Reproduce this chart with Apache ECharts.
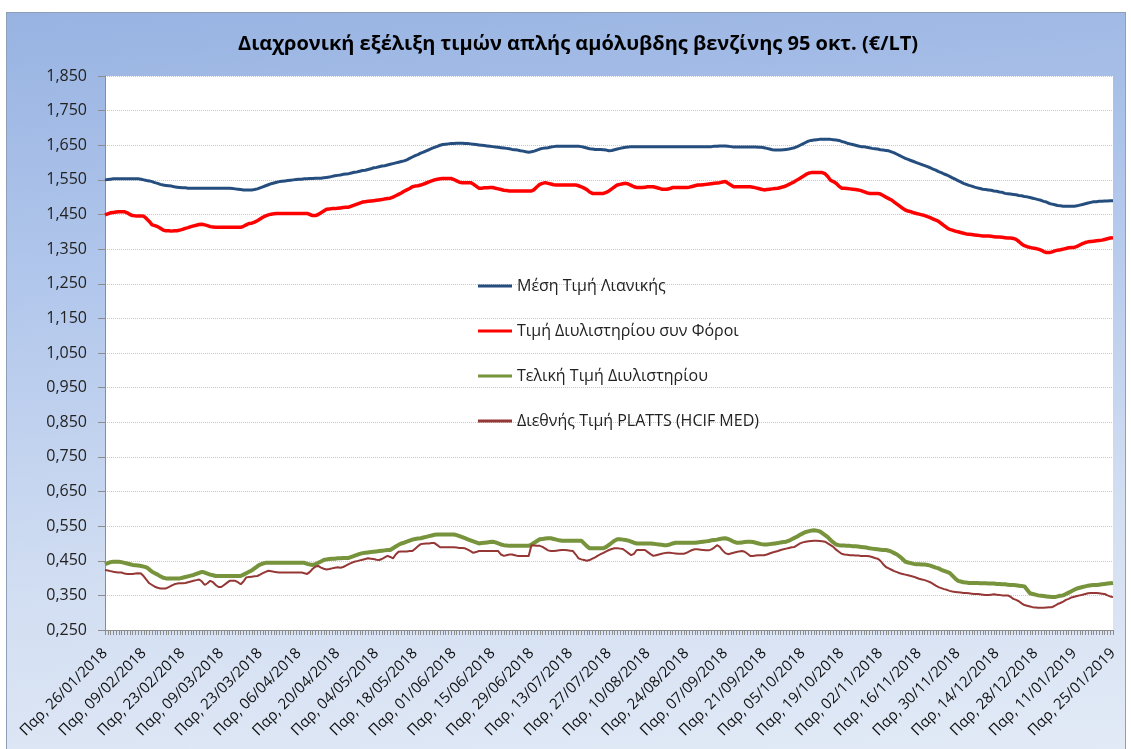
<!DOCTYPE html>
<html><head><meta charset="utf-8">
<script src="https://cdn.jsdelivr.net/npm/echarts@6/dist/echarts.min.js"></script>
<style>
html,body{margin:0;padding:0;background:#fff;width:1131px;height:749px;overflow:hidden;}
#frame{position:absolute;left:6px;top:12px;width:1118px;height:737px;border:1px solid #8da0b8;border-bottom:none;
background:linear-gradient(175deg,#98b3e2 0%,#b3c8ec 35%,#d2def2 70%,#e2eaf6 100%);}
#c{position:absolute;left:0;top:0;width:1118px;height:737px;}
</style></head><body>
<div id="frame"><div id="c"></div></div>
<script>
var startDate = [2018, 0, 26];
var dayCount = 365;
var dayNames = ['Κυρ','Δευ','Τρι','Τετ','Πεμ','Παρ','Σαβ'];
var seriesNames = ['Μέση Τιμή Λιανικής','Τιμή Διυλιστηρίου συν Φόροι','Τελική Τιμή Διυλιστηρίου','Διεθνής Τιμή PLATTS (HCIF MED)'];

var retail = [
1.550,1.551,1.552,1.553,1.553,1.553,1.553,1.553,1.553,1.553,1.553,1.553,1.553,1.552,
1.550,1.548,1.547,1.545,1.542,1.540,1.537,1.535,1.534,1.533,1.532,1.530,1.529,1.528,
1.527,1.527,1.526,1.526,1.526,1.526,1.526,1.526,1.526,1.526,1.526,1.526,1.526,1.526,
1.526,1.526,1.526,1.526,1.525,1.524,1.523,1.522,1.521,1.521,1.521,1.521,1.522,1.524,
1.527,1.530,1.533,1.536,1.539,1.541,1.543,1.545,1.546,1.547,1.548,1.549,1.550,1.551,
1.552,1.552,1.553,1.553,1.554,1.554,1.555,1.555,1.555,1.556,1.557,1.558,1.560,1.562,
1.563,1.564,1.566,1.567,1.568,1.570,1.572,1.573,1.575,1.577,1.578,1.580,1.582,1.585,
1.586,1.588,1.590,1.591,1.593,1.595,1.597,1.599,1.601,1.603,1.605,1.608,1.612,1.616,
1.620,1.623,1.627,1.630,1.634,1.637,1.641,1.644,1.647,1.650,1.652,1.653,1.654,1.655,
1.655,1.656,1.656,1.656,1.655,1.655,1.654,1.653,1.652,1.651,1.650,1.649,1.648,1.647,
1.646,1.645,1.644,1.643,1.642,1.641,1.640,1.638,1.637,1.636,1.634,1.633,1.631,1.630,
1.631,1.633,1.636,1.639,1.641,1.642,1.643,1.645,1.646,1.647,1.647,1.647,1.647,1.647,
1.647,1.647,1.647,1.647,1.646,1.644,1.642,1.640,1.639,1.638,1.638,1.638,1.637,1.636,
1.634,1.635,1.637,1.639,1.641,1.643,1.644,1.645,1.646,1.646,1.646,1.646,1.646,1.646,
1.646,1.646,1.646,1.646,1.646,1.646,1.646,1.646,1.646,1.646,1.646,1.646,1.646,1.646,
1.646,1.646,1.646,1.646,1.646,1.646,1.646,1.646,1.646,1.646,1.647,1.647,1.648,1.648,
1.648,1.647,1.646,1.645,1.645,1.645,1.645,1.645,1.645,1.645,1.645,1.645,1.644,1.644,
1.643,1.641,1.639,1.637,1.636,1.636,1.636,1.637,1.638,1.639,1.641,1.643,1.646,1.650,
1.654,1.658,1.662,1.664,1.665,1.666,1.667,1.667,1.667,1.667,1.667,1.666,1.665,1.664,
1.661,1.659,1.656,1.654,1.652,1.650,1.648,1.646,1.646,1.644,1.643,1.641,1.640,1.639,
1.637,1.636,1.635,1.634,1.631,1.628,1.624,1.620,1.616,1.612,1.609,1.606,1.603,1.600,
1.597,1.594,1.591,1.588,1.585,1.581,1.578,1.574,1.571,1.567,1.564,1.560,1.556,1.552,
1.548,1.544,1.540,1.537,1.534,1.532,1.529,1.527,1.525,1.523,1.522,1.521,1.520,1.518,
1.517,1.515,1.514,1.511,1.510,1.509,1.508,1.507,1.505,1.504,1.502,1.501,1.499,1.497,
1.495,1.493,1.491,1.488,1.486,1.482,1.480,1.478,1.476,1.475,1.474,1.474,1.474,1.474,
1.474,1.475,1.477,1.479,1.481,1.483,1.485,1.487,1.487,1.488,1.488,1.489,1.489,1.490,
1.490];

var refineryTax = [
1.449,1.452,1.455,1.456,1.457,1.458,1.458,1.458,1.455,1.450,1.447,1.446,1.446,1.446,
1.445,1.438,1.430,1.420,1.418,1.415,1.410,1.405,1.403,1.403,1.402,1.403,1.403,1.405,
1.407,1.410,1.412,1.415,1.417,1.419,1.421,1.422,1.420,1.418,1.415,1.414,1.413,1.413,
1.413,1.413,1.413,1.413,1.413,1.413,1.413,1.413,1.416,1.420,1.424,1.425,1.428,1.432,
1.437,1.442,1.446,1.449,1.451,1.452,1.453,1.453,1.453,1.453,1.453,1.453,1.453,1.453,
1.453,1.453,1.453,1.453,1.450,1.447,1.447,1.450,1.455,1.460,1.465,1.466,1.467,1.467,
1.468,1.469,1.470,1.471,1.471,1.474,1.477,1.480,1.483,1.486,1.487,1.488,1.489,1.490,
1.491,1.492,1.493,1.495,1.496,1.497,1.500,1.504,1.508,1.512,1.517,1.521,1.525,1.530,
1.532,1.533,1.535,1.538,1.541,1.544,1.547,1.550,1.552,1.553,1.554,1.554,1.554,1.554,
1.551,1.547,1.543,1.542,1.542,1.542,1.542,1.538,1.532,1.526,1.526,1.527,1.527,1.528,
1.528,1.526,1.524,1.522,1.520,1.519,1.518,1.518,1.518,1.518,1.518,1.518,1.518,1.518,
1.518,1.522,1.530,1.537,1.540,1.542,1.540,1.538,1.536,1.535,1.535,1.535,1.535,1.535,
1.535,1.535,1.535,1.533,1.530,1.526,1.522,1.515,1.511,1.511,1.511,1.511,1.511,1.514,
1.518,1.524,1.530,1.535,1.537,1.539,1.540,1.538,1.534,1.530,1.528,1.528,1.528,1.529,
1.530,1.530,1.530,1.528,1.526,1.523,1.523,1.523,1.525,1.528,1.528,1.528,1.528,1.528,
1.528,1.529,1.531,1.533,1.535,1.535,1.536,1.537,1.538,1.539,1.540,1.541,1.542,1.544,
1.545,1.540,1.535,1.530,1.530,1.530,1.530,1.530,1.530,1.530,1.529,1.527,1.525,1.523,
1.521,1.522,1.523,1.524,1.525,1.526,1.528,1.530,1.533,1.537,1.541,1.545,1.550,1.555,
1.560,1.565,1.569,1.571,1.571,1.571,1.571,1.571,1.568,1.560,1.549,1.545,1.540,1.532,
1.526,1.526,1.525,1.524,1.523,1.522,1.521,1.519,1.516,1.513,1.511,1.511,1.511,1.511,
1.509,1.505,1.500,1.496,1.492,1.486,1.480,1.474,1.468,1.463,1.460,1.458,1.455,1.453,
1.451,1.449,1.447,1.444,1.441,1.437,1.434,1.430,1.424,1.418,1.412,1.407,1.405,1.402,
1.400,1.398,1.396,1.394,1.393,1.392,1.391,1.390,1.389,1.388,1.388,1.388,1.387,1.386,
1.385,1.385,1.384,1.383,1.382,1.382,1.381,1.378,1.372,1.365,1.360,1.357,1.355,1.353,
1.352,1.350,1.347,1.343,1.340,1.340,1.342,1.345,1.347,1.348,1.350,1.352,1.354,1.355,
1.355,1.358,1.362,1.366,1.369,1.371,1.372,1.373,1.374,1.375,1.376,1.378,1.380,1.382,
1.383];

var refineryFinal = [
0.440,0.443,0.446,0.447,0.447,0.447,0.446,0.444,0.442,0.440,0.438,0.437,0.436,0.435,
0.433,0.431,0.425,0.418,0.414,0.410,0.405,0.401,0.399,0.399,0.399,0.399,0.399,0.399,
0.401,0.403,0.405,0.407,0.409,0.412,0.415,0.418,0.416,0.413,0.410,0.408,0.406,0.406,
0.406,0.406,0.406,0.406,0.406,0.406,0.406,0.406,0.410,0.414,0.418,0.422,0.428,0.434,
0.439,0.442,0.444,0.444,0.444,0.444,0.444,0.444,0.444,0.444,0.444,0.444,0.444,0.444,
0.444,0.444,0.444,0.441,0.439,0.438,0.440,0.444,0.448,0.452,0.454,0.455,0.456,0.456,
0.457,0.457,0.458,0.458,0.458,0.461,0.464,0.467,0.470,0.472,0.473,0.474,0.475,0.476,
0.477,0.478,0.479,0.480,0.481,0.481,0.486,0.491,0.496,0.500,0.502,0.505,0.508,0.511,
0.513,0.514,0.515,0.517,0.519,0.521,0.523,0.525,0.526,0.526,0.526,0.526,0.526,0.526,
0.526,0.524,0.521,0.518,0.515,0.512,0.509,0.506,0.503,0.500,0.501,0.502,0.503,0.504,
0.505,0.503,0.500,0.497,0.495,0.494,0.493,0.493,0.493,0.493,0.493,0.493,0.493,0.493,
0.497,0.502,0.507,0.512,0.513,0.514,0.515,0.515,0.513,0.511,0.509,0.508,0.508,0.508,
0.508,0.508,0.508,0.508,0.508,0.500,0.492,0.486,0.486,0.486,0.486,0.486,0.486,0.490,
0.496,0.502,0.508,0.512,0.512,0.511,0.510,0.508,0.505,0.502,0.500,0.500,0.500,0.500,
0.500,0.500,0.499,0.498,0.497,0.496,0.495,0.495,0.497,0.500,0.502,0.502,0.502,0.502,
0.502,0.502,0.502,0.502,0.503,0.504,0.505,0.506,0.507,0.509,0.510,0.511,0.513,0.514,
0.515,0.513,0.509,0.505,0.502,0.502,0.503,0.504,0.505,0.505,0.504,0.502,0.500,0.498,
0.497,0.497,0.498,0.499,0.500,0.501,0.503,0.504,0.505,0.508,0.512,0.516,0.520,0.525,
0.529,0.533,0.535,0.537,0.538,0.537,0.535,0.530,0.524,0.518,0.510,0.503,0.497,0.495,
0.494,0.494,0.493,0.493,0.492,0.492,0.491,0.490,0.489,0.488,0.486,0.485,0.484,0.483,
0.482,0.481,0.481,0.479,0.476,0.472,0.468,0.462,0.455,0.447,0.445,0.443,0.441,0.440,
0.440,0.439,0.439,0.438,0.436,0.433,0.430,0.428,0.424,0.421,0.418,0.415,0.407,0.399,
0.392,0.390,0.388,0.387,0.386,0.386,0.386,0.386,0.385,0.385,0.385,0.384,0.384,0.384,
0.383,0.383,0.382,0.382,0.381,0.380,0.380,0.379,0.378,0.377,0.376,0.366,0.356,0.354,
0.352,0.350,0.349,0.348,0.347,0.346,0.345,0.345,0.347,0.349,0.350,0.354,0.358,0.362,
0.366,0.370,0.372,0.374,0.376,0.378,0.379,0.380,0.380,0.381,0.382,0.383,0.384,0.385,
0.386];

var platts = [
0.423,0.422,0.420,0.418,0.417,0.416,0.416,0.413,0.412,0.412,0.412,0.413,0.414,0.413,
0.405,0.395,0.385,0.380,0.375,0.372,0.370,0.370,0.370,0.374,0.378,0.382,0.384,0.385,
0.385,0.386,0.388,0.390,0.392,0.394,0.396,0.390,0.380,0.385,0.392,0.388,0.380,0.374,
0.374,0.380,0.386,0.392,0.392,0.392,0.388,0.382,0.390,0.402,0.403,0.404,0.405,0.406,
0.410,0.414,0.418,0.421,0.420,0.418,0.417,0.416,0.416,0.416,0.416,0.416,0.416,0.416,
0.416,0.416,0.414,0.412,0.418,0.427,0.433,0.435,0.430,0.427,0.425,0.426,0.428,0.430,
0.431,0.430,0.432,0.436,0.440,0.444,0.447,0.449,0.451,0.453,0.455,0.457,0.456,0.455,
0.453,0.452,0.455,0.460,0.464,0.461,0.457,0.468,0.476,0.477,0.477,0.477,0.478,0.478,
0.485,0.492,0.498,0.499,0.500,0.500,0.501,0.501,0.495,0.489,0.489,0.489,0.489,0.489,
0.489,0.488,0.487,0.487,0.486,0.482,0.478,0.473,0.475,0.478,0.478,0.478,0.478,0.478,
0.478,0.478,0.478,0.468,0.464,0.466,0.468,0.468,0.466,0.464,0.464,0.464,0.464,0.464,
0.495,0.494,0.493,0.493,0.490,0.485,0.480,0.478,0.478,0.479,0.480,0.481,0.481,0.480,
0.479,0.478,0.468,0.457,0.454,0.452,0.450,0.452,0.456,0.460,0.465,0.469,0.473,0.477,
0.481,0.484,0.486,0.486,0.485,0.484,0.478,0.472,0.466,0.470,0.481,0.481,0.481,0.481,
0.475,0.469,0.464,0.466,0.468,0.470,0.472,0.473,0.473,0.472,0.471,0.470,0.470,0.470,
0.473,0.477,0.481,0.483,0.483,0.482,0.481,0.480,0.480,0.483,0.488,0.495,0.490,0.480,
0.472,0.469,0.471,0.473,0.475,0.477,0.478,0.476,0.470,0.464,0.464,0.465,0.466,0.466,
0.466,0.468,0.471,0.474,0.476,0.478,0.481,0.483,0.485,0.487,0.489,0.490,0.495,0.500,
0.503,0.505,0.506,0.507,0.508,0.508,0.507,0.506,0.505,0.500,0.495,0.490,0.482,0.476,
0.470,0.468,0.467,0.466,0.466,0.465,0.465,0.464,0.464,0.464,0.463,0.461,0.458,0.456,
0.450,0.440,0.432,0.428,0.424,0.420,0.417,0.414,0.412,0.410,0.408,0.406,0.404,0.401,
0.398,0.396,0.394,0.391,0.388,0.383,0.378,0.374,0.371,0.368,0.366,0.363,0.361,0.360,
0.359,0.358,0.357,0.357,0.356,0.355,0.354,0.354,0.353,0.352,0.351,0.351,0.352,0.353,
0.352,0.351,0.350,0.350,0.350,0.346,0.340,0.337,0.333,0.327,0.322,0.320,0.318,0.316,
0.315,0.314,0.314,0.314,0.315,0.316,0.316,0.320,0.325,0.328,0.332,0.337,0.340,0.344,
0.346,0.348,0.350,0.352,0.354,0.356,0.357,0.357,0.357,0.356,0.355,0.354,0.350,0.347,
0.345];

function pad(n){return (n<10?'0':'')+n;}
var categories = [];
for (var i = 0; i < dayCount; i++) {
  var d = new Date(startDate[0], startDate[1], startDate[2] + i, 12);
  categories.push(dayNames[d.getDay()] + ', ' + pad(d.getDate()) + '/' + pad(d.getMonth()+1) + '/' + d.getFullYear());
}

var chart = echarts.init(document.getElementById('c'));
var font = '"Open Sans", "Noto Sans", sans-serif';
function mk(name, data, color, width){
  return {name:name, type:'line', data:data, symbol:'none', showSymbol:false,
    lineStyle:{color:color, width:width}, itemStyle:{color:color}, animation:false};
}
chart.setOption({
  backgroundColor:'transparent',
  title:{text:'Διαχρονική εξέλιξη τιμών απλής αμόλυβδης βενζίνης 95 οκτ. (€/LT)', left:226, top:16,
    textStyle:{fontFamily:font, fontSize:20, fontWeight:'bold', color:'#000'}},
  legend:{orient:'vertical', left:466, top:260, itemGap:29, itemWidth:34, itemHeight:3,
    icon:'rect', textStyle:{fontFamily:font, fontSize:16, color:'#222'}, selectedMode:false,
    data:seriesNames},
  grid:{left:98, right:12, top:63, bottom:120, containLabel:false, backgroundColor:'#fff', show:true, borderWidth:0},
  xAxis:{type:'category', data:categories, boundaryGap:false,
    axisLine:{lineStyle:{color:'#8c8c8c'}},
    axisTick:{show:true, interval:0, length:5, lineStyle:{color:'#8c8c8c'}},
    axisLabel:{interval:13, rotate:45, fontFamily:font, fontSize:15, color:'#111', margin:21}},
  yAxis:{type:'value', min:0.25, max:1.85, interval:0.1,
    axisLine:{show:true, lineStyle:{color:'#8c8c8c'}},
    axisTick:{show:true, length:7, lineStyle:{color:'#8c8c8c'}},
    splitLine:{lineStyle:{color:'#c8c8c8', type:'dotted'}},
    axisLabel:{fontFamily:font, fontSize:16, color:'#222', margin:18,
      formatter:function(v){return v.toFixed(3).replace('.', ',');}}},
  series:[
    mk(seriesNames[0], retail, '#254e7f', 3),
    mk(seriesNames[1], refineryTax, '#ff0000', 3.5),
    mk(seriesNames[2], refineryFinal, '#77933c', 4),
    mk(seriesNames[3], platts, '#953735', 2)
  ]
});
</script>
</body></html>
